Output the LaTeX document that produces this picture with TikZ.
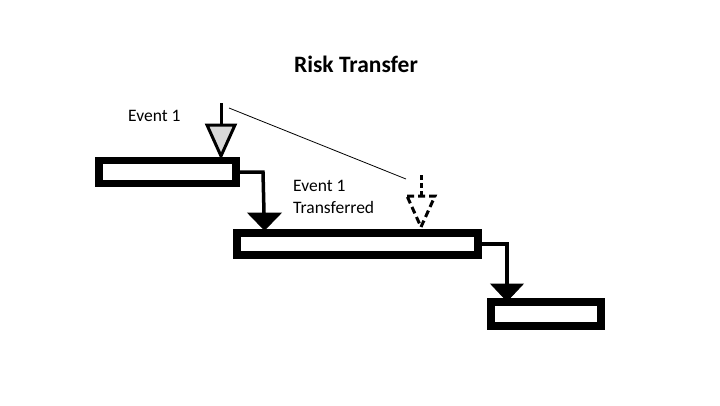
\documentclass[tikz,border=0pt]{standalone}
\usepackage{fontspec}
\setmainfont{Carlito}
\begin{document}
\begin{tikzpicture}[x=1pt,y=-1pt,
  taskbox/.style={draw=black,line width=7.5pt,fill=white,rectangle,inner sep=0pt},
  link/.style={draw=black,line width=3.5pt},
  head/.style={fill=black,draw=black,line width=1pt,line join=miter},
  lbl/.style={font=\fontsize{17.5}{22}\selectfont,align=left,anchor=west,inner sep=0pt}]
\useasboundingbox (0,0) rectangle (720,405);
\node[font=\bfseries\fontsize{23.5}{28}\selectfont] (title) at (356,64) {Risk Transfer};
% boxes
\node[taskbox,minimum width=137pt,minimum height=23pt] (b1) at (167.5,172) {};
\node[taskbox,minimum width=241pt,minimum height=22pt] (b2) at (357.5,244) {};
\node[taskbox,minimum width=110pt,minimum height=24pt] (b3) at (546,314) {};
% connectors between boxes
\coordinate (k1) at (263,172);
\coordinate (t1) at (264,213);
\draw[link] (b1.east) -- (k1) -- (t1);
\draw[head] (248,213) -- (281,213) -- (264.5,230) -- cycle;
\coordinate (k2) at (507,244);
\coordinate (t2) at (507,284);
\draw[link] (b2.east) -- (k2) -- (t2);
\draw[head] (491,284) -- (523,284) -- (507,301) -- cycle;
% event 1
\coordinate (e1top) at (221,103);
\coordinate (e1base) at (221,125);
\draw[line width=3pt] (e1top) -- (e1base);
\draw[fill={rgb,255:red,217;green,217;blue,217},draw=black,line width=3pt,line join=miter]
  (207,125) -- (235,125) -- (221,156) -- cycle;
\node[lbl] (ev1) at (128,116) {Event 1};
% transfer line
\coordinate (l1) at (229,108);
\coordinate (l2) at (406,179);
\draw[line width=0.8pt] (l1) -- (l2);
% dashed event
\coordinate (e2top) at (421,175);
\coordinate (e2base) at (421,196);
\draw[line width=3pt,dash pattern=on 5pt off 3pt] (e2top) -- (e2base);
\draw[fill=white,draw=black,line width=3pt,dash pattern=on 7pt off 4pt,line join=miter]
  (407,196) -- (435,196) -- (421,227) -- cycle;
\node[lbl] (ev2) at (293,197) {Event 1\\Transferred};
\end{tikzpicture}
\end{document}
